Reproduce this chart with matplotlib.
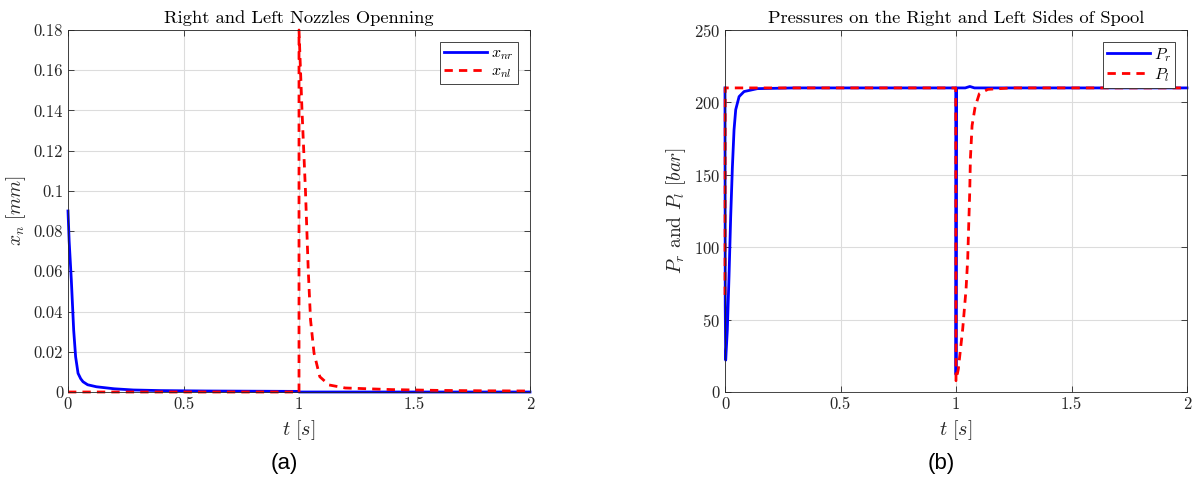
import numpy as np
import matplotlib
matplotlib.use("Agg")
import matplotlib.pyplot as plt

# valores
t_xnr = [0, 0.005, 0.0145, 0.0246, 0.033, 0.0435, 0.055, 0.065, 0.085, 0.123, 0.2, 0.283, 0.4, 0.6, 0.8, 0.999, 1.0, 2.0]
x_nr = [0.09, 0.075, 0.0554, 0.0307, 0.0175, 0.0093, 0.0066, 0.0051, 0.0036, 0.0026, 0.0016, 0.001, 0.0007, 0.0005, 0.0004, 0.0003, 0.0, 0.0]

t_xnl = [0, 1.0, 1.0, 1.013, 1.028, 1.040, 1.050, 1.065, 1.09, 1.13, 1.2, 1.4, 1.6, 1.8, 2.0]
x_nl = [0, 0, 0.18, 0.14, 0.10, 0.0607, 0.0358, 0.0194, 0.0076, 0.0035, 0.002, 0.0012, 0.0008, 0.0006, 0.0005]

t_pr = [0, 0.001, 0.0029, 0.0101, 0.0174, 0.0246, 0.0319, 0.0391, 0.0464, 0.061, 0.0826, 0.14, 0.3,
        0.999, 1.0, 1.002, 1.04, 1.06, 1.08, 2.0]
p_r = [210, 60, 22, 43, 80, 121, 155, 181, 195, 204, 207.5, 209.5, 210,
       210, 12, 210, 210, 211, 210, 210]

t_pl = [0, 0.001, 0.999, 1.0, 1.0101, 1.029, 1.0435, 1.0507, 1.055, 1.0594, 1.0623, 1.0696, 1.0826,
        1.101, 1.138, 1.239, 2.0]
p_l = [67, 210, 210, 7.8, 15.9, 43.5, 71, 92, 115, 138, 161, 184, 196.7,
       206, 209, 210, 210]

x_ticks = [0, 0.5, 1, 1.5, 2]
x_ticklabels = ["0", "0.5", "1", "1.5", "2"]
yl_ticks = [0, 0.02, 0.04, 0.06, 0.08, 0.1, 0.12, 0.14, 0.16, 0.18]
yl_ticklabels = ["0", "0.02", "0.04", "0.06", "0.08", "0.1", "0.12", "0.14", "0.16", "0.18"]
yr_ticks = [0, 50, 100, 150, 200, 250]

plt.rcParams["mathtext.fontset"] = "cm"
plt.rcParams["font.family"] = "serif"
plt.rcParams["font.serif"] = ["cmr10"]
plt.rcParams["axes.unicode_minus"] = False
plt.rcParams["axes.formatter.use_mathtext"] = True

gris = "#262626"

fig = plt.figure(figsize=(11.98, 4.82), dpi=100)
ax1 = fig.add_axes([68/1198, 90/482, 462/1198, 362/482])
ax2 = fig.add_axes([725/1198, 90/482, 462/1198, 362/482])

ax1.plot(t_xnr, x_nr, color="b", lw=2, label=r"$x_{nr}$", clip_on=False)
ax1.plot(t_xnl, x_nl, color="r", lw=2, ls=(0, (3, 2.2)), label=r"$x_{nl}$", clip_on=False)
ax1.set_ylim(0, 0.18)
ax1.set_yticks(yl_ticks)
ax1.set_yticklabels(yl_ticklabels)
ax1.set_title("Right and Left Nozzles Openning", fontsize=13.3, pad=5)
ax1.set_ylabel(r"$x_n\ [mm]$", fontsize=14, color=gris)

ax2.plot(t_pr, p_r, color="b", lw=2, label=r"$P_r$", clip_on=False)
ax2.plot(t_pl, p_l, color="r", lw=2, ls=(0, (3, 2.2)), label=r"$P_l$", clip_on=False)
ax2.set_ylim(0, 250)
ax2.set_yticks(yr_ticks)
ax2.set_title("Pressures on the Right and Left Sides of Spool", fontsize=13.3, pad=5)
ax2.set_ylabel(r"$P_r$ and $P_l$ $[bar]$", fontsize=14, color=gris)

for ax in [ax1, ax2]:
    ax.set_xlim(0, 2)
    ax.set_xticks(x_ticks)
    ax.set_xticklabels(x_ticklabels)
    ax.set_xlabel(r"$t\ [s]$", fontsize=14.5, color=gris)
    ax.grid(True, color="#dcdcdc", lw=0.8)
    ax.set_axisbelow(True)
    ax.tick_params(direction="in", top=True, right=True, labelsize=12, colors=gris, length=4, width=0.6)
    for s in ax.spines.values():
        s.set_color(gris)
        s.set_linewidth(0.6)
    leg = ax.legend(loc="upper right", fontsize=11.5, fancybox=False, framealpha=1,
                    edgecolor=gris, handlelength=2.7, borderaxespad=0.75,
                    labelspacing=0.15, handletextpad=0.25, borderpad=0.25)
    leg.get_frame().set_linewidth(0.6)

fig.text(284/1198, 1 - 463/482, "(a)", ha="center", va="center", fontsize=16, family="Liberation Sans")
fig.text(941/1198, 1 - 463/482, "(b)", ha="center", va="center", fontsize=16, family="Liberation Sans")

fig.savefig("out.png", dpi=100)
